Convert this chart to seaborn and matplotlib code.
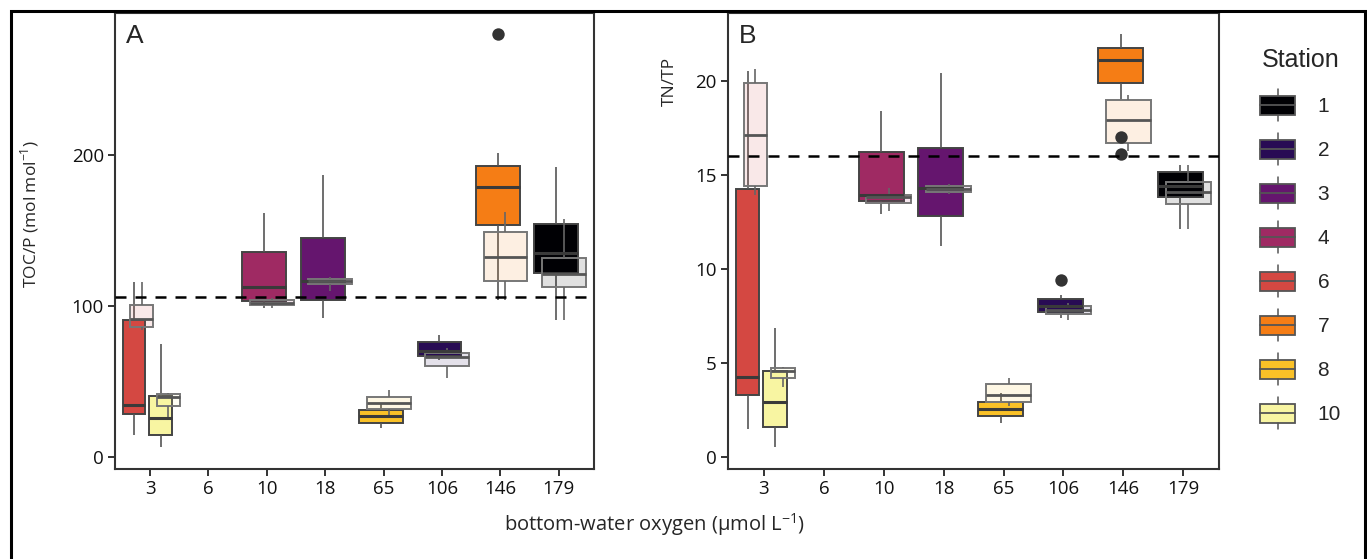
import numpy as np
import matplotlib
matplotlib.use('Agg')
import matplotlib.pyplot as plt
import seaborn as sns
from matplotlib.colors import to_rgb
from matplotlib.patches import Rectangle, Patch
from matplotlib.lines import Line2D
from matplotlib.legend_handler import HandlerBase

sns.set_style('white')
plt.rcParams['font.family'] = ['Open Sans', 'DejaVu Sans']
plt.rcParams['mathtext.fontset'] = 'custom'
plt.rcParams['mathtext.rm'] = 'Open Sans'

oxygen_labels = ['3', '6', '10', '18', '65', '106', '146', '179']
stations = ['1', '2', '3', '4', '6', '7', '8', '10']
station_colors = ['#000004', '#280B54', '#65156E', '#9F2A63',
                  '#D44842', '#F57D15', '#FAC127', '#F8F5A2']
station_x = [7, 5, 3, 2, 0, 6, 4, 0]          # oxygen category of each station
station_dodge = [0, 0, 0, 0, -0.23, 0, 0, 0.23]

# [low whisker, q1, median, q3, high whisker], one row per station
toc_main = [[91, 121.6, 135, 154.3, 192],
            [64, 67, 70, 76, 81],
            [91.8, 104, 116.6, 145, 187],
            [98.5, 103.5, 112.8, 135.5, 161.4],
            [14.6, 28.5, 34.4, 90.7, 116],
            [104, 153.6, 178.6, 193, 201],
            [19, 22.5, 27, 31, 35],
            [6.6, 14.6, 26, 40.6, 74.8]]
toc_faded = [[90.7, 112.4, 121.2, 131.8, 157.4],
             [52, 60, 66, 69, 72],
             [110, 114.4, 116.5, 118, 119.2],
             [98.5, 100.7, 102, 103.9, 105],
             [84, 86.3, 91.4, 100.7, 116],
             [104, 116.3, 132.7, 149.2, 162],
             [26, 32, 36, 40, 44],
             [26.7, 33.8, 40, 42, 42.5]]
toc_out_station = [5]
toc_out_value = [280]

tn_main = [[12.1, 13.8, 14.4, 15.14, 15.5],
           [7.4, 7.7, 8.0, 8.4, 8.6],
           [11.2, 12.8, 14.3, 16.45, 20.4],
           [12.9, 13.6, 13.9, 16.2, 18.4],
           [1.47, 3.28, 4.27, 14.25, 20.5],
           [19.0, 19.9, 21.1, 21.74, 22.5],
           [1.8, 2.2, 2.55, 2.9, 3.4],
           [0.52, 1.57, 2.9, 4.57, 6.88]]
tn_faded = [[12.1, 13.46, 14.1, 14.6, 15.5],
            [7.3, 7.6, 7.8, 8.0, 8.2],
            [14.0, 14.1, 14.25, 14.4, 14.5],
            [13.1, 13.5, 13.8, 13.9, 14.3],
            [13.9, 14.4, 17.1, 19.9, 20.6],
            [16.25, 16.7, 17.9, 19.0, 19.25],
            [2.7, 2.9, 3.3, 3.9, 4.2],
            [3.7, 4.22, 4.55, 4.72, 4.8]]
tn_out_station = [5, 5, 1]
tn_out_value = [17.0, 16.1, 9.4]


class BoxKey(HandlerBase):
    def create_artists(self, legend, orig, xd, yd, w, h, fs, trans):
        x0, y0 = -xd, -yd
        fc = orig.get_facecolor()
        box = Rectangle((x0, y0), w, h, facecolor=fc, edgecolor='#555555',
                        lw=1.3, transform=trans)
        med = Line2D([x0, x0 + w], [y0 + h / 2] * 2, color='#555555', lw=1.3,
                     transform=trans)
        up = Line2D([x0 + w / 2] * 2, [y0 + h, y0 + 1.35 * h], color='#555555',
                    lw=1.1, transform=trans)
        lo = Line2D([x0 + w / 2] * 2, [y0, y0 - 0.35 * h], color='#555555',
                    lw=1.1, transform=trans)
        return [box, med, up, lo]


def draw_panel(ax, main, faded, out_station, out_value, ref):
    for i, c in enumerate(station_colors):
        pos = station_x[i] - 0.045 + station_dodge[i]
        w = 0.39 if station_dodge[i] else 0.75
        sns.boxplot(x=np.full(5, pos), y=main[i], native_scale=True, orient='x',
                    width=w, color=c, saturation=1, whis=(0, 100), showcaps=False,
                    fliersize=0, linecolor='#444444', linewidth=1.4,
                    medianprops={'color': '#3a3a3a', 'linewidth': 2.2},
                    whiskerprops={'color': '#555555', 'linewidth': 1.2}, ax=ax)
    for i, c in enumerate(station_colors):
        pos = station_x[i] + 0.085 + station_dodge[i]
        w = 0.39 if station_dodge[i] else 0.75
        sns.boxplot(x=np.full(5, pos), y=faded[i], native_scale=True, orient='x',
                    width=w, color=c, saturation=1, whis=(0, 100), showcaps=False,
                    fliersize=0, linewidth=1.4,
                    boxprops={'facecolor': (*to_rgb(c), 0.12), 'edgecolor': '#777777'},
                    medianprops={'color': '#555555', 'linewidth': 2.0},
                    whiskerprops={'color': '#666666', 'linewidth': 1.2}, ax=ax)
    ox = [station_x[s] - 0.045 + station_dodge[s] for s in out_station]
    sns.scatterplot(x=ox, y=out_value, color='#333333', s=80, linewidth=0,
                    ax=ax, zorder=6)
    ax.axhline(ref, color='black', lw=1.8, ls=(0, (4.4, 3.6)), zorder=8)
    ax.set_xlim(-0.6, 7.6)
    ax.set_xticks(range(len(oxygen_labels)), oxygen_labels)
    for sp in ax.spines.values():
        sp.set_color('#333333')
        sp.set_linewidth(1.5)
    ax.tick_params(bottom=True, left=True, length=5, width=1.4, color='#333333',
                   labelsize=13.5, labelcolor='#111111', pad=3)
    ax.set_xlabel('')


fig = plt.figure(figsize=(13.67, 5.59), dpi=100)
ax1 = fig.add_axes([0.0841, 0.161, 0.3504, 0.8157])
ax2 = fig.add_axes([0.5326, 0.161, 0.3592, 0.8157])

draw_panel(ax1, toc_main, toc_faded, toc_out_station, toc_out_value, 106)
ax1.set_ylim(-8, 294)
ax1.set_yticks([0, 100, 200])
ax1.set_ylabel('TOC/P (mol mol$^{\\mathregular{-1}}$)', fontsize=12.5)
ax1.yaxis.set_label_coords(-0.155, 0.56)

draw_panel(ax2, tn_main, tn_faded, tn_out_station, tn_out_value, 16)
ax2.set_ylim(-0.64, 23.6)
ax2.set_yticks([0, 5, 10, 15, 20])
ax2.set_ylabel('TN/TP', fontsize=12.5)
ax2.yaxis.set_label_coords(-0.102, 0.85)

for ax, letter in [(ax1, 'A'), (ax2, 'B')]:
    ax.text(0.022, 0.975, letter, transform=ax.transAxes, fontsize=19,
            family='Liberation Sans', va='top', ha='left')

fig.text(655 / 1367, 1 - 525 / 559, 'bottom-water oxygen (µmol L$^{\\mathregular{-1}}$)',
         ha='center', va='center', fontsize=14.5)

handles = [Patch(facecolor=c) for c in station_colors]
fig.legend(handles, stations, handler_map={Patch: BoxKey()}, title='Station',
           loc='upper left', bbox_to_anchor=(1252 / 1367, 1 - 40 / 559),
           frameon=False, prop={'family': 'Liberation Sans', 'size': 15},
           title_fontproperties={'family': 'Liberation Sans', 'size': 18},
           handlelength=1.65, handleheight=1.0, labelspacing=1.13,
           handletextpad=1.1, borderaxespad=0)

fig.add_artist(Rectangle((11 / 1367, -0.1), 1354 / 1367, 1 - 11 / 559 + 0.1,
                         fill=False, lw=2.2, ec='black', transform=fig.transFigure))

fig.savefig('out.png', dpi=100)
